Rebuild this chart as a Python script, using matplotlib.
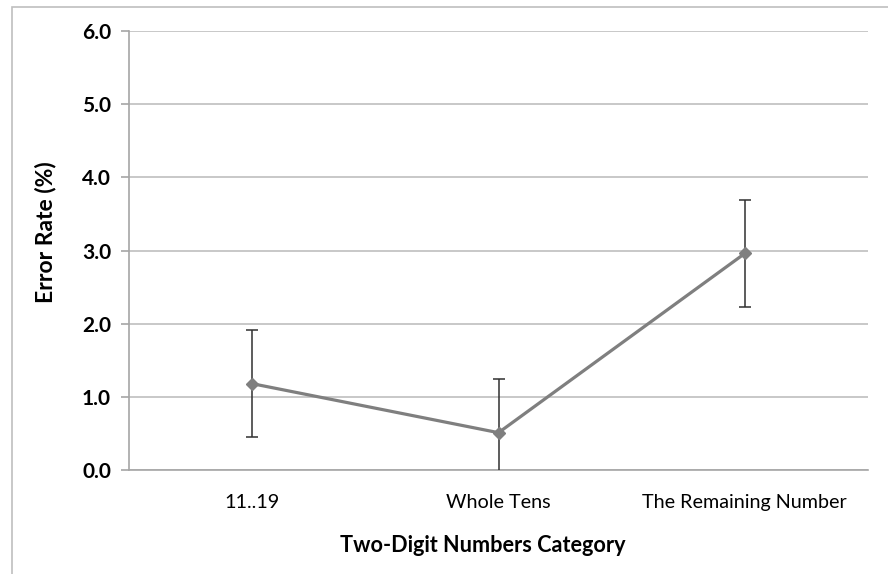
import matplotlib.pyplot as plt
from matplotlib.patches import Rectangle

categories = ["11..19", "Whole Tens", "The Remaining Number"]
error_rate = [1.18, 0.51, 2.96]
error_ci = [0.73, 0.73, 0.73]
y_ticks = [0.0, 1.0, 2.0, 3.0, 4.0, 5.0, 6.0]

plt.rcParams['font.family'] = ['Lato', 'DejaVu Sans']

fig = plt.figure(figsize=(8.88, 5.74), dpi=100)
W, H = 888, 574
ax = fig.add_axes([129 / W, 1 - 470 / H, (868 - 129) / W, (470 - 31) / H])

x = list(range(len(categories)))
ax.errorbar(x, error_rate, yerr=error_ci, fmt='none', ecolor='#303030',
            elinewidth=1.1, capsize=4.5, capthick=1.1, zorder=3)
ax.plot(x, error_rate, color='#7f7f7f', linewidth=2.3, marker='D',
        markersize=6.5, markerfacecolor='#7f7f7f', markeredgecolor='#7f7f7f',
        zorder=4)

ax.set_xlim(-0.5, len(categories) - 0.5)
ax.set_ylim(0, 6)
ax.set_yticks(y_ticks)
ax.set_yticklabels([f"{v:.1f}" for v in y_ticks], fontweight='bold', fontsize=15)
ax.set_xticks(x)
ax.set_xticklabels(categories, fontsize=14.2)

ax.yaxis.grid(True, color='#bfbfbf', linewidth=1.2)
ax.set_axisbelow(True)
for side in ['top', 'right']:
    ax.spines[side].set_visible(False)
for side in ['left', 'bottom']:
    ax.spines[side].set_color('#a6a6a6')
    ax.spines[side].set_linewidth(1.2)
ax.tick_params(axis='y', length=6, width=1.2, color='#a6a6a6', pad=7)
ax.tick_params(axis='x', length=0, pad=17)

ax.set_ylabel("Error Rate (%)", fontweight='bold', fontsize=16.5, labelpad=14)
ax.yaxis.set_label_coords(-0.098, 0.542)
ax.set_xlabel("Two-Digit Numbers Category", fontweight='bold', fontsize=15.6, labelpad=17)
ax.xaxis.set_label_coords(0.479, -0.147)

fig.patches.append(Rectangle((12 / W, -0.05), 1.2, 1.05 - 7 / H,
                             transform=fig.transFigure, fill=False,
                             edgecolor='#bfbfbf', linewidth=1.2))

fig.savefig("out.png", dpi=100)
